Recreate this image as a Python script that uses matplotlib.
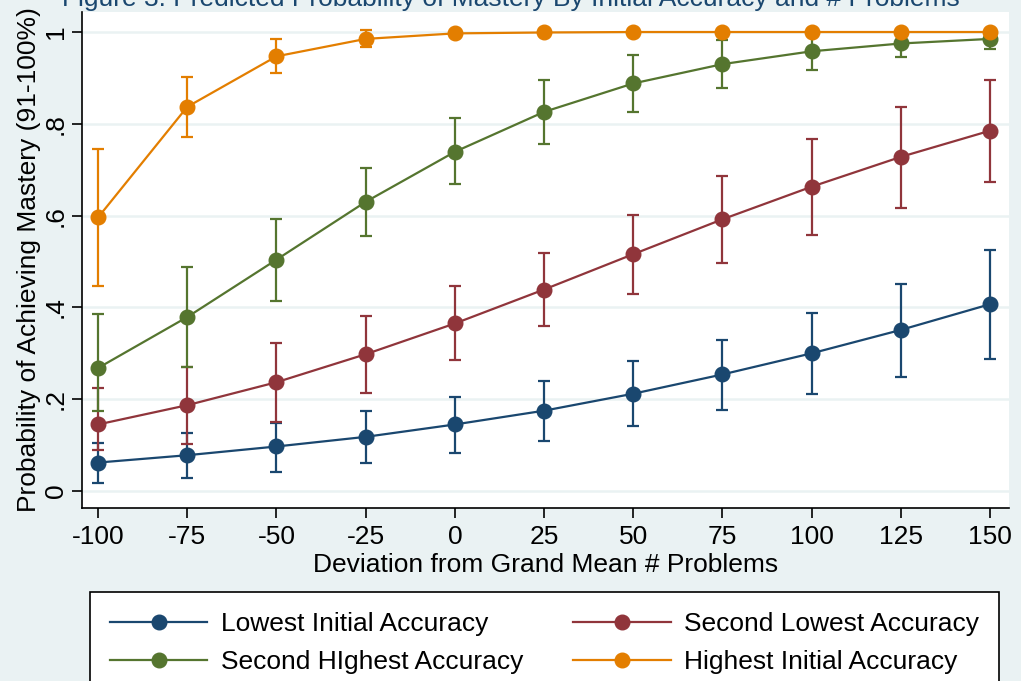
import matplotlib.pyplot as plt
import numpy as np

plt.rcParams['font.family'] = ['Liberation Sans', 'DejaVu Sans']

dev = [-100, -75, -50, -25, 0, 25, 50, 75, 100, 125, 150]

labels = ["Lowest Initial Accuracy", "Second Lowest Accuracy",
          "Second HIghest Accuracy", "Highest Initial Accuracy"]
colors = ["#1a476f", "#90353b", "#55752f", "#e37e00"]

# predicted probabilities
lowest = [0.062, 0.078, 0.097, 0.118, 0.145, 0.175, 0.212, 0.254, 0.300, 0.351, 0.407]
second_low = [0.145, 0.187, 0.237, 0.298, 0.365, 0.439, 0.516, 0.592, 0.663, 0.728, 0.785]
second_high = [0.268, 0.379, 0.504, 0.630, 0.739, 0.826, 0.888, 0.930, 0.958, 0.975, 0.985]
highest = [0.596, 0.837, 0.947, 0.985, 0.997, 0.999, 1.0, 1.0, 1.0, 1.0, 1.0]

# 95% CI bounds
lowest_lo = [0.018, 0.028, 0.042, 0.060, 0.083, 0.110, 0.142, 0.176, 0.211, 0.249, 0.288]
lowest_hi = [0.105, 0.126, 0.149, 0.174, 0.204, 0.240, 0.283, 0.330, 0.388, 0.452, 0.525]
second_low_lo = [0.090, 0.102, 0.151, 0.214, 0.285, 0.359, 0.430, 0.496, 0.558, 0.617, 0.674]
second_low_hi = [0.225, 0.271, 0.323, 0.381, 0.446, 0.518, 0.601, 0.686, 0.768, 0.837, 0.895]
second_high_lo = [0.175, 0.271, 0.415, 0.555, 0.668, 0.755, 0.825, 0.878, 0.917, 0.945, 0.964]
second_high_hi = [0.386, 0.488, 0.593, 0.703, 0.812, 0.895, 0.951, 0.982, 0.998, 1.002, 1.005]
highest_lo = [0.446, 0.771, 0.910, 0.967, 0.991, 0.997, 0.999, 1.0, 1.0, 1.0, 1.0]
highest_hi = [0.746, 0.901, 0.984, 1.004, 1.003, 1.001, 1.001, 1.0, 1.0, 1.0, 1.0]

series = [lowest, second_low, second_high, highest]
lows = [lowest_lo, second_low_lo, second_high_lo, highest_lo]
highs = [lowest_hi, second_low_hi, second_high_hi, highest_hi]

bg = "#eaf2f3"
fs = 19
fig = plt.figure(figsize=(10.21, 6.81), dpi=100, facecolor=bg)
ax = fig.add_axes([82/1021, 1 - 508/681, (1009 - 82)/1021, (508 - 12)/681])
ax.set_facecolor("white")

x = np.array(dev)
# confidence intervals first, then connected lines on top
for s, lo, hi, c in zip(series, lows, highs, colors):
    s = np.array(s)
    err = [s - np.array(lo), np.array(hi) - s]
    ax.errorbar(x, s, yerr=err, fmt='none', ecolor=c, elinewidth=1.6,
                capsize=4, capthick=1.6, zorder=3)

handles = []
for s, c, lab in zip(series, colors, labels):
    h, = ax.plot(x, s, '-o', color=c, lw=1.6, markersize=10.5, label=lab, zorder=4)
    handles.append(h)

ax.set_xlim(-104.5, 155.3)
ax.set_ylim(-0.037, 1.0436)
ax.set_xticks(dev)
ax.set_xticklabels([str(d) for d in dev])
ax.set_yticks([0, 0.2, 0.4, 0.6, 0.8, 1.0])
ax.set_yticklabels(["0", ".2", ".4", ".6", ".8", "1"], rotation=90, va='center')
ax.grid(axis='y', color=bg, lw=1.8)
ax.set_axisbelow(True)
for side in ['top', 'right']:
    ax.spines[side].set_visible(False)
for side in ['left', 'bottom']:
    ax.spines[side].set_linewidth(1.2)
ax.tick_params(labelsize=fs, length=7, width=1.2, direction='out')
ax.tick_params(axis='y', pad=3)
ax.tick_params(axis='x', pad=5)

ax.set_xlabel("Deviation from Grand Mean # Problems", fontsize=fs, labelpad=3)
ax.set_ylabel("Probability of Achieving Mastery (91-100%)", fontsize=fs, labelpad=2)

fig.text(0.5, 1 - 6/681,
         "Figure 3: Predicted Probability of Mastery By Initial Accuracy and # Problems",
         ha='center', va='baseline', fontsize=fs, color="#1a476f")

# legend filled row by row, as in the original
order = [0, 2, 1, 3]
leg = fig.legend(handles=[handles[i] for i in order], loc='upper left', ncol=2,
                 bbox_to_anchor=(90/1021, 1 - 599/681, (999 - 90)/1021, 0.01),
                 mode='expand', borderaxespad=0, fontsize=fs, handlelength=3.7,
                 frameon=True, fancybox=False, edgecolor='black', framealpha=1,
                 borderpad=0.75, labelspacing=0.55, handletextpad=0.5)
leg.get_frame().set_linewidth(1.2)

fig.savefig("out.png", dpi=100, facecolor=bg)
